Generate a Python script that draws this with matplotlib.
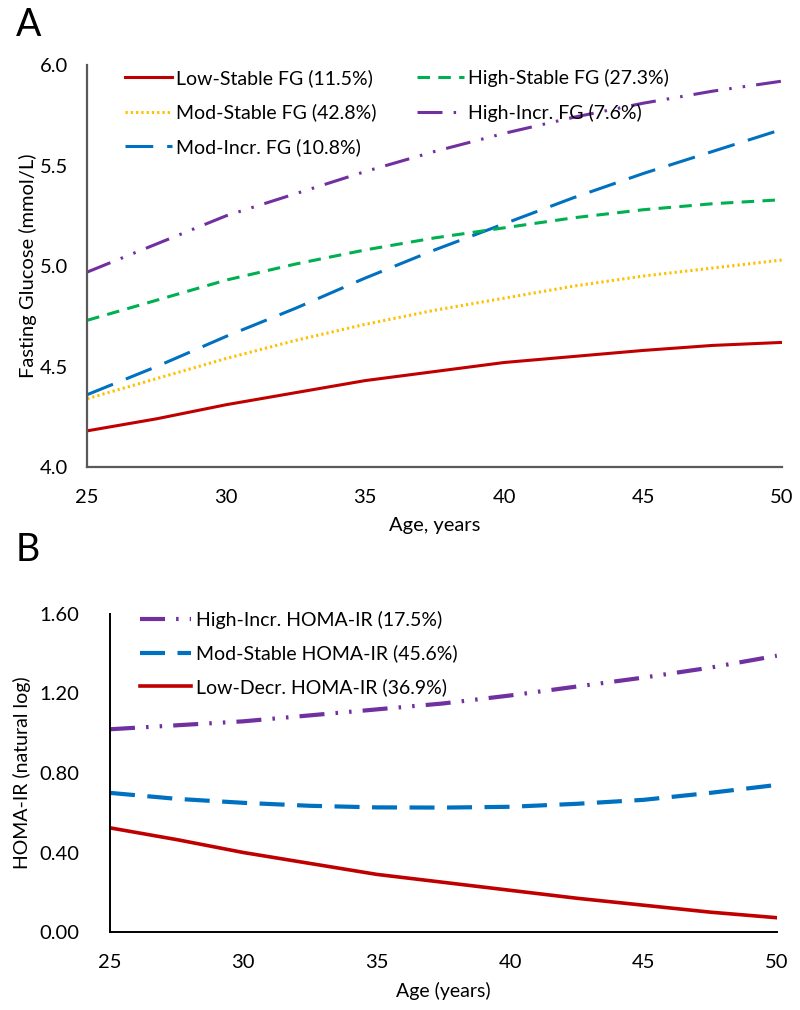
import matplotlib
matplotlib.use("Agg")
import matplotlib.pyplot as plt

plt.rcParams['font.family'] = ['Lato', 'DejaVu Sans']
plt.rcParams['lines.scale_dashes'] = False

# Panel A - fasting glucose trajectories
age = [25, 27.5, 30, 32.5, 35, 37.5, 40, 42.5, 45, 47.5, 50]
fg_low_stable = [4.18, 4.24, 4.31, 4.37, 4.43, 4.475, 4.52, 4.55, 4.58, 4.605, 4.62]
fg_mod_stable = [4.34, 4.44, 4.54, 4.63, 4.71, 4.78, 4.84, 4.90, 4.95, 4.99, 5.03]
fg_mod_incr = [4.36, 4.50, 4.65, 4.79, 4.94, 5.08, 5.21, 5.34, 5.46, 5.57, 5.68]
fg_high_stable = [4.73, 4.83, 4.93, 5.01, 5.08, 5.14, 5.19, 5.24, 5.28, 5.31, 5.33]
fg_high_incr = [4.97, 5.11, 5.25, 5.36, 5.47, 5.57, 5.66, 5.74, 5.81, 5.87, 5.92]

# Panel B - HOMA-IR trajectories
homa_high_incr = [1.02, 1.04, 1.06, 1.09, 1.12, 1.15, 1.19, 1.235, 1.28, 1.33, 1.39]
homa_mod_stable = [0.70, 0.67, 0.65, 0.635, 0.627, 0.626, 0.63, 0.645, 0.665, 0.70, 0.74]
homa_low_decr = [0.524, 0.465, 0.40, 0.345, 0.29, 0.25, 0.21, 0.17, 0.135, 0.10, 0.072]

x_ticks = [25, 30, 35, 40, 45, 50]

red = '#C00000'
yellow = '#FFC000'
blue = '#0070C0'
green = '#00B050'
purple = '#7030A0'

fig = plt.figure(figsize=(8, 10.1), dpi=100)

# ---- A ----
ax1 = fig.add_axes([0.109, 0.5376, 0.8685, 0.398])
ax1.plot(age, fg_low_stable, color=red, lw=2.2, label='Low-Stable FG (11.5%)')
ax1.plot(age, fg_mod_stable, color=yellow, lw=2.2, dashes=(1.6, 2.2), label='Mod-Stable FG (42.8%)')
ax1.plot(age, fg_mod_incr, color=blue, lw=2.2, dashes=(20, 10), label='Mod-Incr. FG (10.8%)')
ax1.plot(age, fg_high_stable, color=green, lw=2.2, dashes=(9, 6), label='High-Stable FG (27.3%)')
ax1.plot(age, fg_high_incr, color=purple, lw=2.2, dashes=(18, 8, 1.8, 8, 1.8, 8), label='High-Incr. FG (7.6%)')
ax1.set_xlim(25, 50)
ax1.set_ylim(4.0, 6.0)
ax1.set_xticks(x_ticks)
ax1.set_yticks([4.0, 4.5, 5.0, 5.5, 6.0])
ax1.set_yticklabels(['4.0', '4.5', '5.0', '5.5', '6.0'])
ax1.set_xlabel('Age, years', fontsize=14.5, labelpad=8)
ax1.set_ylabel('Fasting Glucose (mmol/L)', fontsize=14.5, labelpad=2)
for s in ['top', 'right']:
    ax1.spines[s].set_visible(False)
for s in ['left', 'bottom']:
    ax1.spines[s].set_color('#595959')
    ax1.spines[s].set_linewidth(1.6)
ax1.tick_params(axis='y', length=0, labelsize=14.5, pad=14)
ax1.tick_params(axis='x', length=0, labelsize=14.5, pad=16)
ax1.legend(loc='upper left', bbox_to_anchor=(0.055, 0.99), ncol=2, frameon=False,
           fontsize=14, handlelength=2.4, handletextpad=0.2, columnspacing=2.1,
           labelspacing=0.85, borderaxespad=0, borderpad=0)
fig.text(0.02, 0.993, 'A', fontsize=27, va='top', ha='left')

# ---- B ----
ax2 = fig.add_axes([0.1375, 0.0772, 0.8335, 0.3149])
ax2.plot(age, homa_high_incr, color=purple, lw=3, dashes=(18, 8, 1.8, 8, 1.8, 8), label='High-Incr. HOMA-IR (17.5%)')
ax2.plot(age, homa_mod_stable, color=blue, lw=3, dashes=(18, 9), label='Mod-Stable HOMA-IR (45.6%)')
ax2.plot(age, homa_low_decr, color=red, lw=2.6, label='Low-Decr. HOMA-IR (36.9%)')
ax2.set_xlim(25, 50)
ax2.set_ylim(0, 1.6)
ax2.set_xticks(x_ticks)
ax2.set_yticks([0, 0.4, 0.8, 1.2, 1.6])
ax2.set_yticklabels(['0.00', '0.40', '0.80', '1.20', '1.60'])
ax2.set_xlabel('Age (years)', fontsize=14, labelpad=8)
ax2.set_ylabel('HOMA-IR (natural log)', fontsize=14, labelpad=6)
for s in ['top', 'right']:
    ax2.spines[s].set_visible(False)
for s in ['left', 'bottom']:
    ax2.spines[s].set_color('black')
    ax2.spines[s].set_linewidth(1.4)
ax2.tick_params(axis='y', length=0, labelsize=14.5, pad=22)
ax2.tick_params(axis='x', length=0, labelsize=14.5, pad=16)
ax2.legend(loc='upper left', bbox_to_anchor=(0.045, 1.01), frameon=False,
           fontsize=14, handlelength=2.6, handletextpad=0.3,
           labelspacing=0.8, borderaxespad=0, borderpad=0)
fig.text(0.02, 0.473, 'B', fontsize=27, va='top', ha='left')

fig.savefig('out.png', dpi=100)
